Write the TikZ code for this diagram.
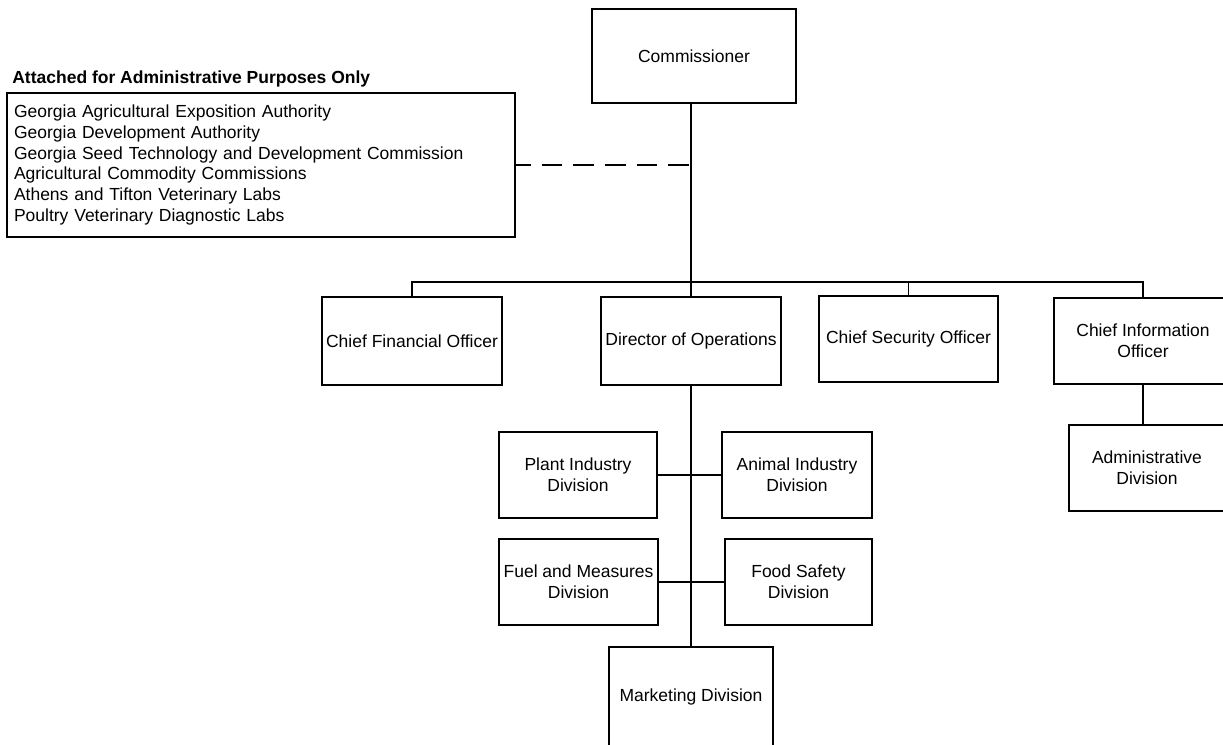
\documentclass[tikz,border=0pt]{standalone}
\usepackage{fontspec}
\setmainfont{Liberation Sans}
\begin{document}
\begin{tikzpicture}[x=0.6pt,y=-0.6pt,
  every node/.style={font=\fontsize{10.5}{12.6}\selectfont},
  conn/.style={line width=0.75pt},
  orgbox/.style n args={2}{draw, line width=0.75pt, align=center, inner sep=0pt,
     minimum width={#1*0.6pt}, minimum height={#2*0.6pt}},
  dashconn/.style={line width=0.75pt, dash pattern=on 12.4pt off 6.6pt, dash phase=3.4pt}]
\useasboundingbox (0,0) rectangle (1223,744);
\clip (0,0) rectangle (1223,744);
% nodes
\node[orgbox={204}{94}] (comm) at (694,56) {Commissioner};
\node[anchor=west, inner sep=0pt, font=\fontsize{10.5}{12.6}\selectfont\bfseries] (title) at (12,79) {Attached for Administrative Purposes Only};
\node[draw, line width=0.75pt, align=left, inner xsep=4.2pt, inner ysep=0pt,
      text width=296.4pt, minimum height=86.4pt, font=\fontsize{10.5}{12.4}\selectfont] (list) at (261,165)
  {Georgia Agricultural Exposition Authority\\
   Georgia Development Authority\\
   Georgia Seed Technology and Development Commission\\
   Agricultural Commodity Commissions\\
   Athens and Tifton Veterinary Labs\\
   Poultry Veterinary Diagnostic Labs};
\node[orgbox={180}{88}] (cfo) at (412,341) {Chief Financial Officer};
\node[orgbox={180}{88}] (dir) at (691,341) {Director of Operations};
\node[orgbox={179}{86}] (cso) at (908.5,339) {Chief Security Officer};
\node[orgbox={178}{86}] (cio) at (1143,341) {Chief Information\\Officer};
\node[orgbox={156}{86}] (admin) at (1147,468) {Administrative\\Division};
\node[orgbox={158}{86}] (plant) at (578,475) {Plant Industry\\Division};
\node[orgbox={150}{86}] (animal) at (797,475) {Animal Industry\\Division};
\node[orgbox={159}{86}] (fuel) at (578.5,582) {Fuel and Measures\\Division};
\node[orgbox={147}{86}] (food) at (798.5,582) {Food Safety\\Division};
\node[orgbox={164}{100}] (mkt) at (691,697) {Marketing Division};
% coordinates
\coordinate (bus) at (691,282);
\coordinate (thickend) at (691,623);
% connectors
\draw[conn] (bus |- comm.south) -- (bus);
\draw[conn] (cfo.north) -- (cfo.north |- bus) -- (cio.north |- bus) -- (cio.north);
\draw[conn] (dir.north) -- (bus);
\draw[conn] (cso.north) -- (cso.north |- bus);
\draw[dashconn] (list.east) -- (list.east -| bus);
\draw[conn] (dir.south) -- (mkt.north);
\draw[line width=1.4pt] (dir.south) -- (thickend);
\draw[conn] (plant.east) -- (animal.west);
\draw[conn] (fuel.east) -- (food.west);
\draw[conn] (cio.south) -- (cio.south |- admin.north);
\end{tikzpicture}
\end{document}
